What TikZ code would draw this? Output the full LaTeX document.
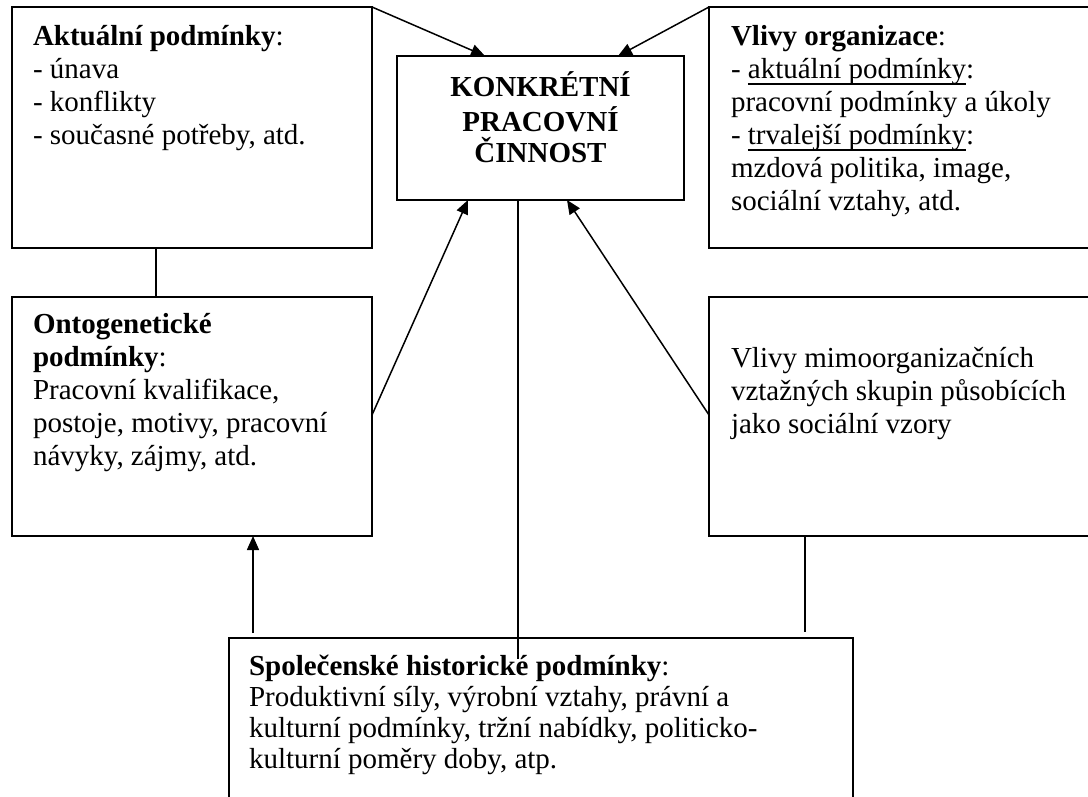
\documentclass[tikz,border=0pt]{standalone}
\usepackage{fontspec}
\setmainfont{Liberation Serif}
\usetikzlibrary{arrows.meta,calc}
\newcommand\tfnt{\fontsize{29}{33}\selectfont}
\newcommand\bfnt{\fontsize{29}{31}\selectfont\bfseries}
\newcommand\ulx[1]{\setbox0\hbox{#1}\rlap{\rule[-6.5pt]{\wd0}{1.8pt}}\box0}
\tikzset{
  box/.style={draw, line width=1.8pt, inner sep=0pt, outer sep=0pt, anchor=north west},
  txt/.style={anchor=north west, inner sep=0pt, outer sep=0pt, align=left, font=\tfnt},
  ctxt/.style={anchor=north, inner sep=0pt, outer sep=0pt, align=center, font=\bfnt},
  conn/.style={line width=1.5pt},
  arr/.style={conn, -{Triangle[length=14pt,width=12pt]}},
}
\begin{document}
\begin{tikzpicture}[x=1pt,y=-1pt]
\useasboundingbox (0,0) rectangle (1088,796);
\clip (0,0) rectangle (1088,796);
\fill[white] (0,0) rectangle (1088,796);
% boxes
\node[box, minimum width=360pt, minimum height=241pt] (a) at (12,7) {};
\node[box, minimum width=287pt, minimum height=144pt] (c) at (397,56) {};
\node[box, minimum width=390pt, minimum height=241pt] (v) at (709,7) {};
\node[box, minimum width=360pt, minimum height=239pt] (o) at (12,297) {};
\node[box, minimum width=390pt, minimum height=239pt] (m) at (709,297) {};
\node[box, minimum width=624pt, minimum height=200pt] (s) at (229,638) {};
% texts
\node[txt] (at) at (33,21.9) {\strut\textbf{Aktuální podmínky}:\\- únava\\- konflikty\\- současné potřeby, atd.};
\node[ctxt] (ct) at (540.5,71.3) {\strut KONKRÉTNÍ\\PRACOVNÍ\\ČINNOST};
\node[txt] (vt) at (731,21.9) {\strut\textbf{Vlivy organizace}:\\- \ulx{aktuální podmínky}:\\pracovní podmínky a úkoly\\- \ulx{trvalejší podmínky}:\\mzdová politika, image,\\sociální vztahy, atd.};
\node[txt] (ot) at (33,309.9) {\strut\textbf{Ontogenetické}\\\textbf{podmínky}:\\Pracovní kvalifikace,\\postoje, motivy, pracovní\\návyky, zájmy, atd.};
\node[txt] (mt) at (731,343.9) {\strut Vlivy mimoorganizačních\\vztažných skupin působících\\jako sociální vzory};
\node[txt, font=\fontsize{29}{31}\selectfont] (st) at (249,653.3) {\strut\textbf{Společenské historické podmínky}:\\Produktivní síly, výrobní vztahy, právní a\\kulturní podmínky, tržní nabídky, politicko-\\kulturní poměry doby, atp.};
% free ends
\coordinate (s1) at (253,633);
\coordinate (s2) at (518,659);
\coordinate (s3) at (805,632);
% connectors
\draw[arr] (a.north east) -- ($(c.north west)+(88,0)$);
\draw[arr] (v.north west) -- ($(c.north west)+(221,0)$);
\draw[arr] ($(o.north east)+(0,118)$) -- ($(c.south west)+(71,0)$);
\draw[arr] ($(m.north west)+(0,118)$) -- ($(c.south west)+(170,0)$);
\draw[conn] ($(a.south west)+(144,0)$) -- ($(o.north west)+(144,0)$);
\draw[arr] (s1) -- ($(o.south west)+(241,0)$);
\draw[conn] ($(c.south west)+(121,0)$) -- (s2);
\draw[conn] ($(m.south west)+(96,0)$) -- (s3);
\end{tikzpicture}
\end{document}
